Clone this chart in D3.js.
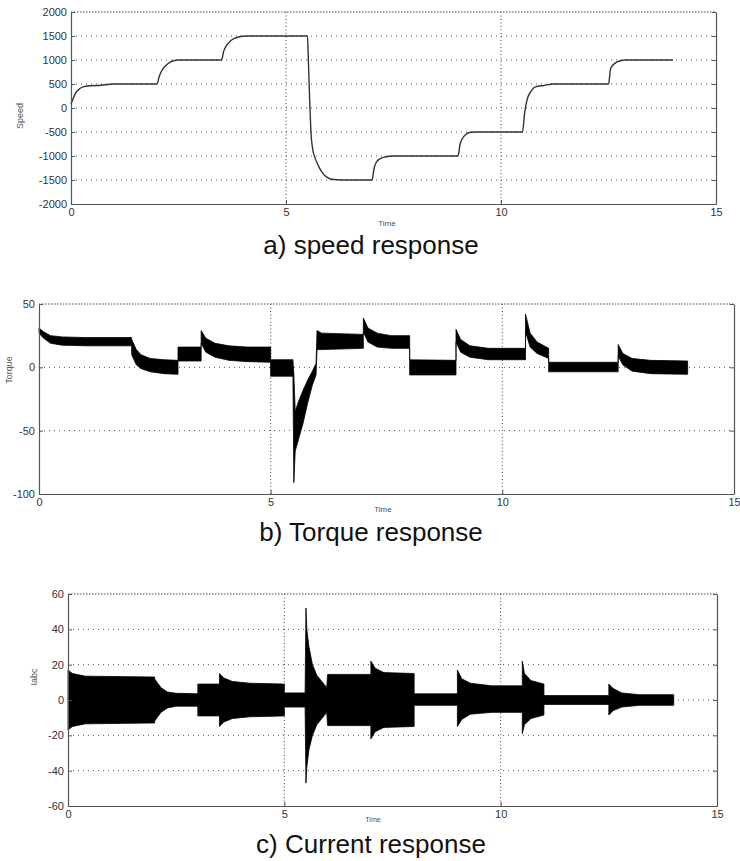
<!DOCTYPE html>
<html>
<head>
<meta charset="utf-8">
<script src="https://cdn.jsdelivr.net/npm/d3@7"></script>
<style>
  body { margin: 0; background: #fff; }
  svg { display: block; }
</style>
</head>
<body>
<div id="chart"></div>
<script>
// shared time axis
const timeTicks = [0, 5, 10, 15];

// a) speed response
const speedTicks = [-2000, -1500, -1000, -500, 0, 500, 1000, 1500, 2000];
const speedTime = [0, 0.05, 0.1, 0.2, 0.3, 0.45, 0.7, 0.9, 1.0, 2.0,
  2.05, 2.1, 2.2, 2.3, 2.4, 2.5, 3.5,
  3.55, 3.6, 3.7, 3.8, 3.9, 4.0, 4.1, 5.5,
  5.52, 5.55, 5.58, 5.62, 5.68, 5.75, 5.85, 5.95, 6.1, 6.3, 7.0,
  7.05, 7.1, 7.2, 7.3, 7.5, 9.0,
  9.05, 9.1, 9.2, 9.3, 9.4, 10.5,
  10.55, 10.6, 10.7, 10.8, 11.0, 11.2, 12.5,
  12.55, 12.6, 12.7, 12.8, 12.9, 14.0];
const speedValue = [80, 200, 300, 400, 445, 465, 475, 495, 500, 500,
  650, 760, 880, 950, 990, 1000, 1000,
  1180, 1280, 1390, 1450, 1480, 1495, 1500, 1500,
  1000, 200, -500, -850, -1050, -1200, -1350, -1440, -1490, -1500, -1500,
  -1250, -1130, -1050, -1020, -1000, -1000,
  -750, -640, -540, -505, -500, -500,
  -100, 150, 350, 440, 470, 500, 500,
  820, 890, 960, 990, 1000, 1000];

// b) torque response (envelope of the ripple band)
const torqueTicks = [-100, -50, 0, 50];
const torqueTime = [0, 0.1, 0.25, 0.5, 1.0, 2.0,
  2.0, 2.1, 2.2, 2.4, 2.7, 3.0,
  3.0, 3.5,
  3.5, 3.6, 3.8, 4.1, 4.5, 5.0,
  5.0, 5.48,
  5.5, 5.53, 5.6, 5.7, 5.8, 5.9, 5.98,
  6.0, 6.1, 7.0,
  7.0, 7.1, 7.3, 7.6, 8.0,
  8.0, 9.0,
  9.0, 9.1, 9.3, 9.7, 10.5,
  10.5, 10.6, 10.75, 11.0,
  11.0, 12.5,
  12.5, 12.6, 12.8, 13.2, 14.0];
const torqueUpper = [31, 28, 25, 24, 23.5, 23.5,
  22, 14, 10, 7, 6, 5.5,
  16, 16,
  29, 23, 19, 17, 16, 16,
  6, 6,
  -5, -35, -27, -18, -10, -3, 3,
  29, 27, 26,
  39, 31, 27, 25, 25,
  6, 5.5,
  30, 22, 17, 15, 15,
  42, 27, 20, 15,
  4, 4,
  18, 11, 7, 5.5, 5];
const torqueLower = [27, 23, 19, 17.5, 17, 17,
  10, 2, -1, -3.5, -5, -5.5,
  5, 5,
  19, 12, 8, 5.5, 4.5, 4,
  -7, -7,
  -91, -66, -57, -44, -28, -14, -6,
  14, 14, 15,
  28, 20, 16, 15, 15,
  -6, -6,
  20, 12, 8, 6, 6,
  28, 16, 11, 7,
  -3.5, -3.5,
  9, 2, -3, -5, -5.5];

// c) current response (envelope of the phase currents)
const currentTicks = [-60, -40, -20, 0, 20, 40, 60];
const currentTime = [0, 0.1, 0.4, 2.0,
  2.0, 2.15, 2.3, 2.5, 3.0,
  3.0, 3.5,
  3.5, 3.6, 3.8, 4.2, 5.0,
  5.0, 5.48,
  5.5, 5.52, 5.57, 5.65, 5.75, 5.9, 5.98,
  6.0, 7.0,
  7.0, 7.1, 7.3, 8.0,
  8.0, 9.0,
  9.0, 9.1, 9.3, 9.8, 10.5,
  10.5, 10.55, 10.7, 11.0,
  11.0, 12.5,
  12.5, 12.6, 12.8, 13.2, 14.0];
const currentUpper = [17, 15, 13.5, 13,
  12, 7, 4.5, 3.8, 3.5,
  9, 9,
  15, 12.5, 10.5, 9.5, 9,
  4, 4,
  52, 40, 30, 20, 14, 9.5, 7,
  14.5, 14.5,
  22, 18, 15.5, 15,
  3.5, 3.5,
  17, 12, 9.5, 8, 8,
  22, 15, 11, 9,
  2.5, 2.5,
  9, 6.5, 4, 3, 3];
const currentLower = [-17, -15, -13.5, -13,
  -12, -7, -4.5, -3.5, -3.5,
  -9, -9,
  -15, -12.5, -10.5, -9.5, -9,
  -4, -4,
  -47, -38, -28, -20, -14, -9.5, -7,
  -14.5, -14.5,
  -22, -18, -15.5, -15,
  -3, -3,
  -15, -11, -8, -7, -7,
  -19, -14, -10.5, -8.5,
  -2.5, -2.5,
  -8.5, -6, -4, -3, -3];

const W = 740, H = 861;
const svg = d3.select("#chart").append("svg")
    .attr("width", W)
    .attr("height", H)
    .style("font-family", "'Liberation Sans', Arial, sans-serif");

svg.append("rect").attr("width", W).attr("height", H).attr("fill", "#fff");

// plain hyphen minus, no thousands separator (MATLAB style)
const plain = d => String(d);

function drawPanel(p) {
    const x = d3.scaleLinear().domain([0, 15]).range([p.left, p.right]);
    const y = d3.scaleLinear().domain(d3.extent(p.yTicks)).range([p.bottom, p.top]);
    const g = svg.append("g");

    // dotted grid
    g.selectAll(".hgrid")
        .data(p.yTicks.slice(1, -1))
        .enter().append("line")
        .attr("x1", p.left).attr("x2", p.right)
        .attr("y1", d => y(d)).attr("y2", d => y(d))
        .attr("stroke", "#555")
        .attr("stroke-width", 1)
        .attr("stroke-dasharray", "1,4");

    g.selectAll(".vgrid")
        .data(timeTicks.slice(1, -1))
        .enter().append("line")
        .attr("x1", d => x(d)).attr("x2", d => x(d))
        .attr("y1", p.top).attr("y2", p.bottom)
        .attr("stroke", "#444")
        .attr("stroke-width", 1)
        .attr("stroke-dasharray", "1,2.5");

    p.draw(g, x, y);

    // frame: top edge dotted, others solid
    g.append("line")
        .attr("x1", p.left).attr("x2", p.right)
        .attr("y1", p.top).attr("y2", p.top)
        .attr("stroke", "#444")
        .attr("stroke-width", 1)
        .attr("stroke-dasharray", "1.5,1.5");

    const axisStyle = sel => {
        sel.select(".domain").attr("stroke", "#555").attr("stroke-width", 1.2);
        sel.selectAll(".tick line").attr("stroke", "#555");
        sel.selectAll(".tick text")
            .attr("fill", "#333")
            .style("font-size", "11px");
    };

    g.append("g")
        .attr("transform", `translate(${p.left},0)`)
        .call(d3.axisLeft(y).tickValues(p.yTicks).tickFormat(plain)
            .tickSize(-4).tickSizeOuter(0).tickPadding(4))
        .call(axisStyle);

    g.append("g")
        .attr("transform", `translate(${p.right},0)`)
        .call(d3.axisRight(y).tickValues(p.yTicks).tickSize(-4).tickSizeOuter(0).tickFormat(""))
        .call(axisStyle);

    g.append("g")
        .attr("transform", `translate(0,${p.bottom})`)
        .call(d3.axisBottom(x).tickValues(timeTicks).tickFormat(plain)
            .tickSize(-4).tickSizeOuter(0).tickPadding(4))
        .call(axisStyle);

    g.selectAll(".domain").attr("fill", "none");

    // labels
    g.append("text")
        .attr("x", p.timeX)
        .attr("y", p.timeY)
        .attr("text-anchor", "middle")
        .attr("fill", "#4a4f5c")
        .style("font-size", p.timeSize + "px")
        .text("Time");

    g.append("text")
        .attr("transform", `translate(${p.labelX},${p.labelY}) rotate(-90)`)
        .attr("text-anchor", "middle")
        .attr("fill", "#555")
        .style("font-size", "9px")
        .text(p.yLabel);

    g.append("text")
        .attr("x", 371)
        .attr("y", p.titleY)
        .attr("text-anchor", "middle")
        .attr("fill", "#111")
        .style("font-size", "26px")
        .text(p.title);
}

const speedData = speedTime.map((t, i) => ({ t, v: speedValue[i] }));
const torqueData = torqueTime.map((t, i) => ({ t, hi: torqueUpper[i], lo: torqueLower[i] }));
const currentData = currentTime.map((t, i) => ({ t, hi: currentUpper[i], lo: currentLower[i] }));

function band(data) {
    return (g, x, y) => {
        g.append("path")
            .datum(data)
            .attr("fill", "#000")
            .attr("stroke", "#000")
            .attr("stroke-width", 0.8)
            .attr("d", d3.area()
                .x(d => x(d.t))
                .y0(d => y(d.lo))
                .y1(d => y(d.hi)));
    };
}

drawPanel({
    left: 71, right: 716, top: 12, bottom: 204,
    yTicks: speedTicks,
    yLabel: "Speed", labelX: 23, labelY: 116,
    timeX: 387, timeY: 226, timeSize: 8,
    title: "a) speed response", titleY: 254,
    draw: (g, x, y) => {
        g.append("path")
            .datum(speedData)
            .attr("fill", "none")
            .attr("stroke", "#333")
            .attr("stroke-width", 1.4)
            .attr("d", d3.line()
                .x(d => x(d.t))
                .y(d => y(d.v))
                .curve(d3.curveMonotoneX));
    }
});

drawPanel({
    left: 39, right: 734, top: 304, bottom: 494,
    yTicks: torqueTicks,
    yLabel: "Torque", labelX: 12, labelY: 370,
    timeX: 383, timeY: 512, timeSize: 8,
    title: "b) Torque response", titleY: 541,
    draw: band(torqueData)
});

drawPanel({
    left: 68, right: 717, top: 594, bottom: 806,
    yTicks: currentTicks,
    yLabel: "Iabc", labelX: 37, labelY: 677,
    timeX: 373, timeY: 822, timeSize: 7,
    title: "c) Current response", titleY: 853,
    draw: band(currentData)
});
</script>
</body>
</html>
